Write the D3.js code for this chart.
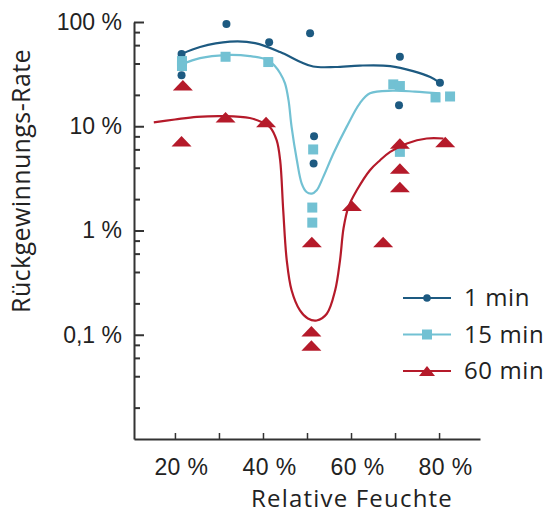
<!DOCTYPE html>
<html>
<head>
<meta charset="utf-8">
<script src="https://cdn.jsdelivr.net/npm/d3@7/dist/d3.min.js"></script>
<style>
  body { margin: 0; background: #fff; }
  svg { display: block; font-family: "Open Sans", sans-serif; }
</style>
</head>
<body>
<div id="chart"></div>
<script>
// series
const seriesNames = ["1 min", "15 min", "60 min"];
const seriesColors = ["#1d5a81", "#72c1d3", "#b51a2a"];

// measured points: [relative humidity %, recovery rate %]
const points1min = [[21.5, 49.3], [21.5, 30.9], [31.7, 95.7], [41.4, 63.8], [50.7, 77.9],
  [51.6, 8.03], [51.5, 4.39], [71.1, 46.4], [70.9, 15.9], [80.2, 26.1]];
const points15min = [[21.6, 42.2], [21.6, 37.8], [31.5, 46.4], [41.2, 41.3], [51.4, 5.99],
  [51.2, 1.66], [51.2, 1.19], [69.6, 25.2], [71.1, 24.3], [79.2, 18.9], [82.5, 19.3], [71.1, 5.68]];
const points60min = [[21.8, 24.8], [21.5, 7.19], [31.5, 12.2], [40.7, 11.0], [51.1, 0.776],
  [51.0, 0.108], [51.0, 0.079], [60.2, 1.73], [67.3, 0.776], [71.1, 6.84], [71.1, 3.93],
  [71.1, 2.62], [81.4, 7.08]];

// fitted trend curves
const curve1min = [[21.5, 49.3], [25.7, 57.5], [32.5, 64.7], [38.2, 62.8], [43.9, 51.5],
  [48.4, 41.6], [51.4, 37.4], [56.4, 37.0], [62.0, 38.2], [68.9, 37.8], [74.1, 33.8],
  [78.0, 29.6], [80.2, 26.1]];
const curve15min = [[21.6, 39.5], [25.7, 45.1], [31.5, 48.2], [37.0, 47.1], [41.1, 43.2],
  [42.7, 37.8], [43.9, 32.2], [45.0, 25.8], [45.8, 17.8], [46.5, 9.86], [47.7, 4.72],
  [48.8, 2.82], [49.9, 2.34], [51.1, 2.26], [52.2, 2.43], [53.7, 3.27], [56.0, 5.48],
  [59.0, 9.86], [62.0, 16.6], [64.3, 20.7], [69.5, 21.9], [74.5, 21.5], [80.2, 20.7]];
const curve60min = [[15.2, 10.9], [20.0, 11.6], [25.0, 12.3], [31.4, 12.5], [37.0, 12.0],
  [39.8, 10.9], [41.6, 9.8], [43.1, 7.35], [43.9, 4.72], [44.6, 1.56], [45.4, 0.518],
  [46.5, 0.267], [48.4, 0.171], [50.2, 0.143], [52.2, 0.137], [54.5, 0.159], [56.4, 0.267],
  [57.5, 0.518], [58.3, 1.05], [59.4, 1.68], [61.3, 2.43], [64.3, 3.79], [66.6, 4.72],
  [68.9, 5.68], [72.7, 6.84], [77.2, 7.63], [81.0, 7.63]];

// axes
const xDomain = [10.7, 89.3];
const yDomain = [0.01, 100];
const xTickValues = [20, 30, 40, 50, 60, 70, 80];
const xTickLabels = ["20 %", "", "40 %", "", "60 %", "", "80 %"];
const yTickValues = [0.1, 1, 10, 100];
const yTickLabels = ["0,1 %", "1 %", "10 %", "100 %"];
const xTitle = "Relative Feuchte";
const yTitle = "Rückgewinnungs-Rate";

const margin = {top: 22, right: 65, bottom: 76, left: 134},
  width = 545 - margin.left - margin.right,
  height = 515 - margin.top - margin.bottom;

const svg = d3.select("#chart").append("svg")
  .attr("width", 545)
  .attr("height", 515);

const g = svg.append("g")
  .attr("transform", `translate(${margin.left},${margin.top})`);

const x = d3.scaleLinear().domain(xDomain).range([0, width]);
const y = d3.scaleLog().domain(yDomain).range([height, 0]);

const axisColor = "#333";
const textColor = "#222";

// minor y ticks (2, 4, 6, 8 of each decade)
const minorTicks = y.ticks().filter(v => {
  const m = Math.round(v / Math.pow(10, Math.floor(Math.log10(v) + 1e-9)));
  return m % 2 === 0;
});

g.append("g")
  .call(d3.axisLeft(y).tickValues(minorTicks).tickSize(-6).tickFormat(""))
  .call(a => a.select(".domain").remove())
  .call(a => a.selectAll("line").attr("stroke", axisColor).attr("stroke-width", 2));

g.append("g")
  .call(d3.axisLeft(y).tickValues(yTickValues).tickSizeInner(-10).tickSizeOuter(0).tickPadding(12)
    .tickFormat((d, i) => yTickLabels[i]))
  .call(a => a.select(".domain").attr("stroke", axisColor).attr("stroke-width", 2))
  .call(a => a.selectAll("line").attr("stroke", axisColor).attr("stroke-width", 2))
  .call(a => a.selectAll("text").attr("fill", textColor).style("font-size", "23px"));

g.append("g")
  .attr("transform", `translate(0,${height})`)
  .call(d3.axisBottom(x).tickValues(xTickValues).tickSizeInner(-6).tickSizeOuter(0).tickPadding(20)
    .tickFormat((d, i) => xTickLabels[i]))
  .call(a => a.select(".domain").attr("stroke", axisColor).attr("stroke-width", 2))
  .call(a => a.selectAll("line").attr("stroke", axisColor).attr("stroke-width", 1.5))
  .call(a => a.selectAll("text").attr("fill", textColor).attr("dx", 6)
    .style("font-size", "23px").style("letter-spacing", "0.4px"));

// axis titles
svg.append("text")
  .attr("x", 352)
  .attr("y", 507)
  .attr("text-anchor", "middle")
  .attr("fill", textColor)
  .style("font-size", "24px")
  .style("letter-spacing", "1.2px")
  .text(xTitle);

svg.append("text")
  .attr("transform", "translate(30,181) rotate(-90)")
  .attr("text-anchor", "middle")
  .attr("fill", textColor)
  .style("font-size", "25px")
  .style("letter-spacing", "0.4px")
  .text(yTitle);

// markers
const triPath = (w, h) => `M${-w / 2},${h / 2}L${w / 2},${h / 2}L0,${-h / 2}Z`;
const markers = [
  (sel, big) => sel.append("circle").attr("r", big ? 4 : 3.8),
  (sel, big) => sel.append("rect").attr("x", -5).attr("y", -5).attr("width", 10).attr("height", 10),
  (sel, big) => sel.append("path").attr("d", big ? triPath(20, 10.5) : triPath(16, 10))
];

const line = d3.line()
  .x(d => x(d[0]))
  .y(d => y(d[1]))
  .curve(d3.curveCatmullRom.alpha(0.5));

const allCurves = [curve1min, curve15min, curve60min];
const allPoints = [points1min, points15min, points60min];

allCurves.forEach((c, i) => {
  g.append("path")
    .datum(c)
    .attr("d", line)
    .attr("fill", "none")
    .attr("stroke", seriesColors[i])
    .attr("stroke-width", 2.2);

  g.append("g")
    .selectAll("g")
    .data(allPoints[i])
    .join("g")
    .attr("transform", d => `translate(${x(d[0])},${y(d[1])})`)
    .each(function () { markers[i](d3.select(this), true); })
    .attr("fill", seriesColors[i]);
});

// legend
const legend = svg.append("g").attr("transform", "translate(403,298)");
seriesNames.forEach((name, i) => {
  const row = legend.append("g").attr("transform", `translate(0,${i * 36.5})`);
  row.append("line")
    .attr("x1", 0).attr("x2", 48)
    .attr("stroke", seriesColors[i])
    .attr("stroke-width", 2.2);
  const m = row.append("g").attr("transform", "translate(24,0)").attr("fill", seriesColors[i]);
  markers[i](m, false);
  row.append("text")
    .attr("x", 61)
    .attr("dy", "0.35em")
    .attr("fill", textColor)
    .style("font-size", "24px")
    .style("letter-spacing", "0.6px")
    .text(name);
});
</script>
</body>
</html>
